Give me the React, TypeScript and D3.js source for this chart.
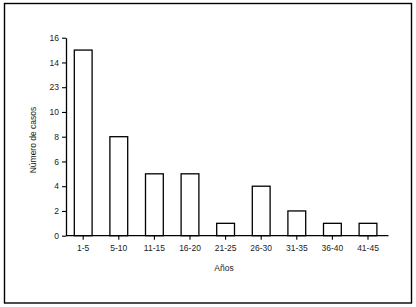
import { useRef, useEffect } from 'react';
import * as d3 from 'd3';

const categories = ['1-5', '5-10', '11-15', '16-20', '21-25', '26-30', '31-35', '36-40', '41-45'];
const casos = [15, 8, 5, 5, 1, 4, 2, 1, 1];
const yTicks = [0, 2, 4, 6, 8, 10, 12, 14, 16];
const yTickLabels = ['0', '2', '4', '6', '8', '10', '23', '14', '16'];

const W = 416;
const H = 307;
const FONT = '"Liberation Sans", Arial, sans-serif';

const App = () => {
  const svgRef = useRef<SVGSVGElement>(null);

  useEffect(() => {
    if (!svgRef.current) return;
    const svg = d3.select(svgRef.current);
    svg.selectAll('*').remove();

    // outer frame
    svg.append('rect')
      .attr('x', 4.5).attr('y', 3.5)
      .attr('width', 407).attr('height', 299.5)
      .attr('fill', 'white')
      .attr('stroke', '#000')
      .attr('stroke-width', 1.4);

    const axisLeft = 66;
    const axisRight = 388.5;

    const x = d3.scaleBand<string>()
      .domain(categories)
      .range([65.4, 385.8])
      .paddingInner(0.5)
      .paddingOuter(0.25);

    const y = d3.scaleLinear()
      .domain([0, 16])
      .range([235.7, 37.7]);

    // bars
    svg.selectAll('.bar')
      .data(casos)
      .enter()
      .append('rect')
      .attr('class', 'bar')
      .attr('x', (_, i) => x(categories[i]) || 0)
      .attr('y', d => y(d))
      .attr('width', x.bandwidth())
      .attr('height', d => y(0) - y(d))
      .attr('fill', 'white')
      .attr('stroke', '#000')
      .attr('stroke-width', 1.3);

    // y axis
    const yAxis = svg.append('g')
      .attr('transform', `translate(${axisLeft},0)`)
      .call(d3.axisLeft(y)
        .tickValues(yTicks)
        .tickSize(4)
        .tickSizeOuter(0)
        .tickPadding(3)
        .tickFormat((_, i) => yTickLabels[i]));
    yAxis.select('.domain').attr('stroke', '#000').attr('stroke-width', 1.3);
    yAxis.selectAll('.tick line').attr('stroke', '#000').attr('stroke-width', 1.1);
    yAxis.selectAll('text')
      .style('font-family', FONT)
      .style('font-size', '8.5px')
      .attr('fill', '#222');

    // x axis
    const xAxis = svg.append('g')
      .attr('transform', `translate(0,${y(0)})`)
      .call(d3.axisBottom(x)
        .tickSize(4)
        .tickSizeOuter(0)
        .tickPadding(5));
    xAxis.select('.domain').remove();
    xAxis.append('line')
      .attr('x1', axisLeft).attr('x2', axisRight)
      .attr('y1', 0).attr('y2', 0)
      .attr('stroke', '#000').attr('stroke-width', 1.3);
    xAxis.selectAll('.tick line').attr('stroke', '#000').attr('stroke-width', 1.1);
    xAxis.selectAll('text')
      .style('font-family', FONT)
      .style('font-size', '8.5px')
      .attr('fill', '#222');

    // axis titles
    svg.append('text')
      .attr('x', 224)
      .attr('y', 271)
      .attr('text-anchor', 'middle')
      .style('font-family', FONT)
      .style('font-size', '8.5px')
      .attr('fill', '#222')
      .text('Años');

    svg.append('text')
      .attr('transform', `translate(36,140) rotate(-90)`)
      .attr('text-anchor', 'middle')
      .style('font-family', FONT)
      .style('font-size', '8.5px')
      .attr('fill', '#222')
      .text('Número de casos');
  }, []);

  return (
    <svg
      ref={svgRef}
      width={W}
      height={H}
      style={{ position: 'absolute', left: 0, top: 0, background: 'white' }}
    />
  );
};

export default App;
